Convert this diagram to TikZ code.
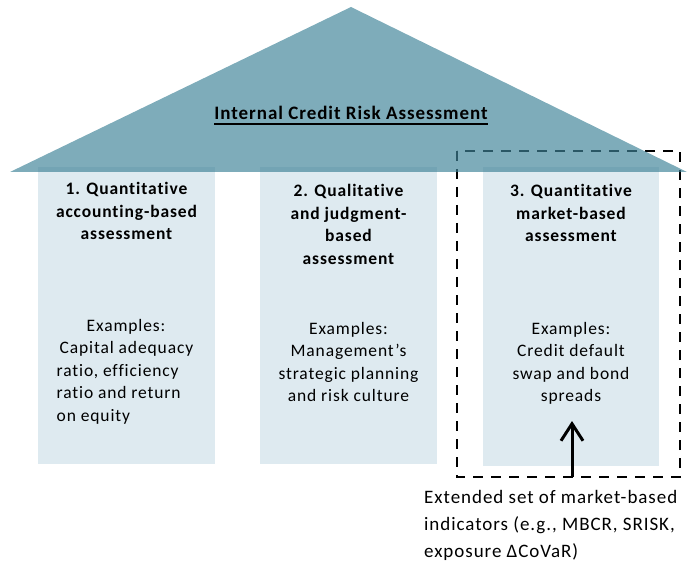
\documentclass[tikz,border=0pt]{standalone}
\usepackage{fontspec}
\setmainfont{Carlito}[LetterSpace=5, Ligatures=NoCommon]
\usetikzlibrary{arrows.meta}

\definecolor{roofblue}{RGB}{63,131,152}
\definecolor{pillarblue}{RGB}{222,234,240}

\tikzset{
    pillar/.style={fill=pillarblue},
    heading/.style={font=\fontsize{17.5}{22.5}\selectfont\bfseries, align=center, anchor=base, inner sep=0pt},
    examples/.style={font=\fontsize{17.5}{22.5}\selectfont, align=center, anchor=base, inner sep=0pt},
}

\begin{document}
\begin{tikzpicture}[x=1pt,y=-1pt]
    \useasboundingbox (0,0) rectangle (689,567);

    % three pillars
    \fill[pillar] (38,167) rectangle (215,464);
    \fill[pillar] (260,167) rectangle (437,464);
    \fill[pillar] (483,167) rectangle (659,466);

    % box around the market-based pillar
    \draw[line width=2.6pt, dash pattern=on 10pt off 8pt] (457,151) rectangle (680,477);

    % roof, see-through so the pillars and box show under it
    \fill[roofblue, fill opacity=0.67] (10,172) -- (351,7) -- (687,172) -- cycle;
    \node[heading, font=\fontsize{19}{22}\selectfont\bfseries] (roof) at (351,120) {Internal Credit Risk Assessment};
    \draw[line width=2.4pt] ([yshift=-4pt]roof.base west) -- ([yshift=-4pt]roof.base east);

    % pillar 1 (anchored at the baseline of the last line)
    \node[heading] (head1) at (126.5,240) {1. Quantitative\\accounting-based\\assessment};
    \node[examples, align=left] (ex1) at (125,421) {\hspace*{30pt}Examples:\\\hspace*{3pt}Capital adequacy\\ratio, efficiency\\ratio and return\\on equity};

    % pillar 2
    \node[heading] (head2) at (348.5,264.5) {2. Qualitative\\and judgment-\\based\\assessment};
    \node[examples] (ex2) at (348.5,401.5) {Examples:\\Management’s\\strategic planning\\and risk culture};

    % pillar 3
    \node[heading] (head3) at (571,242) {3. Quantitative\\market-based\\assessment};
    \node[examples] (ex3) at (571,401.5) {Examples:\\Credit default\\swap and bond\\spreads};

    % extended indicators feeding into pillar 3
    \node[examples, align=left, anchor=base west, font=\fontsize{19}{27}\selectfont] (extended) at (424,557)
        {Extended set of market-based\\indicators (e.g., MBCR, SRISK,\\exposure ΔCoVaR)};
    \coordinate (arrowfoot) at (572,477);
    \coordinate (arrowtip) at (572,421);
    \draw[line width=3pt, -{Straight Barb[length=17pt, width=22pt, line width=3pt]}] (arrowfoot) -- (arrowtip);
\end{tikzpicture}
\end{document}
